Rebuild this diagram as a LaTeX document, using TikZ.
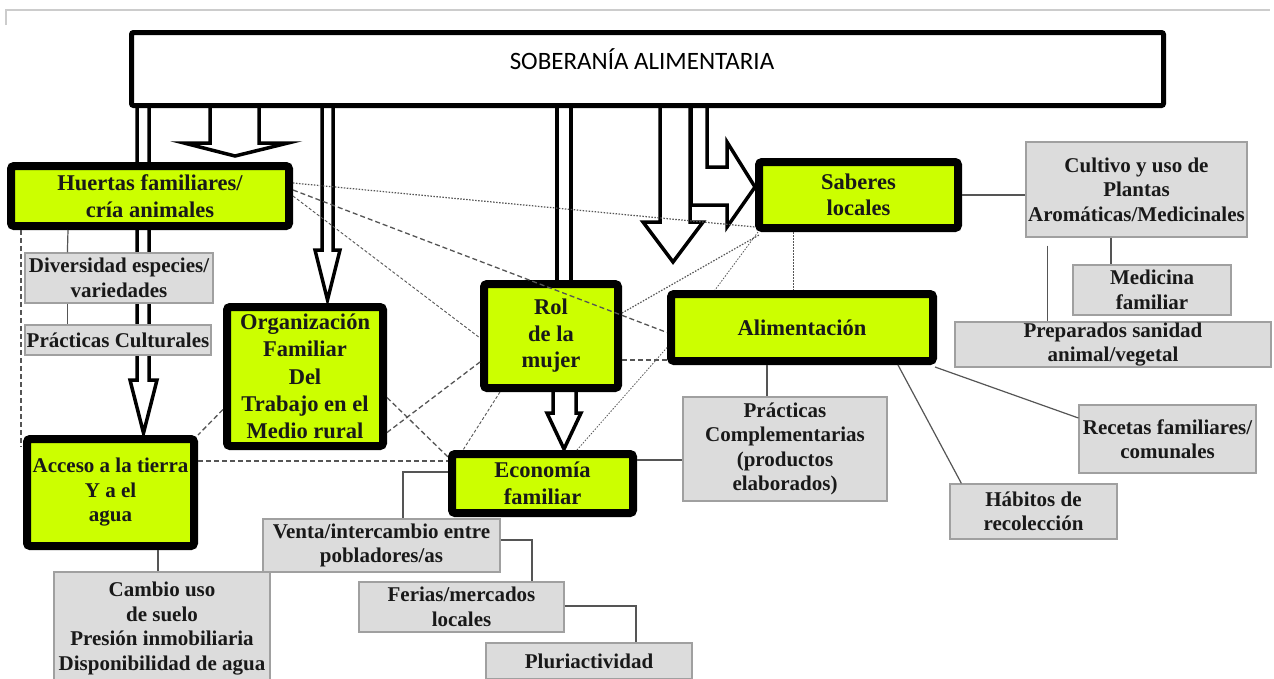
\documentclass[tikz,border=0pt]{standalone}
\usepackage{fontspec}
\setmainfont{Liberation Serif}
\newfontfamily\carl{Carlito}
\definecolor{limeg}{HTML}{CCFF00}
\definecolor{boxg}{HTML}{DCDCDC}
\definecolor{boxe}{HTML}{A0A0A0}
\definecolor{lnk}{HTML}{555555}
\begin{document}
\begin{tikzpicture}[x=1pt,y=-1pt,
  gbox/.style={draw=black, line width=8pt, fill=limeg, rounded corners=3pt, align=center, inner sep=0pt, text=black!90,
    font={\fontsize{22.5}{26.5}\selectfont\bfseries}},
  grbox/.style={draw=boxe, line width=1.2pt, fill=boxg, align=center, inner sep=0pt, text=black!90,
    font={\fontsize{21}{24.5}\selectfont\bfseries}},
  barrow/.style={draw=black, line width=3.5pt, fill=white, line join=miter},
  ddot/.style={draw=lnk, line width=1.2pt, dash pattern=on 1.5pt off 1.5pt},
  ddash/.style={draw=lnk, line width=1.3pt, dash pattern=on 5pt off 3pt},
  dthin/.style={draw=lnk, line width=0.9pt, dash pattern=on 3pt off 2pt},
  sline/.style={draw=lnk, line width=1.2pt}]
\useasboundingbox (0,0) rectangle (1274,678);
\fill[white] (0,0) rectangle (1274,678);
\draw[black!20, line width=2pt] (6,25) -- (6,10) -- (1270,10);

% block arrows
\draw[barrow] (137,106) -- (137,380) -- (130,380) -- (143.5,433) -- (157,380) -- (149,380) -- (149,106) -- cycle;
\draw[barrow] (210,106) -- (210,143) -- (184,143) -- (235,156) -- (288,143) -- (259,143) -- (259,106) -- cycle;
\draw[barrow] (322,106) -- (322,250) -- (315,250) -- (327.5,300) -- (340,250) -- (333,250) -- (333,106) -- cycle;
\draw[barrow] (557,106) -- (557,284) -- (571,284) -- (571,106) -- cycle;
\draw[barrow] (553,390) -- (553,413) -- (547,413) -- (564,449) -- (581,413) -- (576,413) -- (576,390) -- cycle;
\draw[barrow] (660,104) -- (660,222) -- (643,222) -- (673,262) -- (703,222) -- (690,222) -- (690,104) -- cycle;
\draw[barrow] (691,106) -- (691,205) -- (727,205) -- (727,227) -- (755,187) -- (727,142) -- (727,167) -- (707,167) -- (707,106) -- cycle;

% top box
\node[draw=black, line width=5pt, rounded corners=2pt, fill=white, minimum width=1032pt, minimum height=73pt] (sob) at (647.5,69) {};
\node[font={\carl\fontsize{25}{30}\selectfont}] (sobt) at (642,59) {SOBERANÍA ALIMENTARIA};

% green boxes
\node[gbox, minimum width=278pt, minimum height=60pt] (hu) at (150,196) {Huertas familiares/\\cría animales};
\node[gbox, minimum width=156pt, minimum height=139pt, font={\fontsize{22.5}{27.2}\selectfont\bfseries}] (or) at (305,376.5) {Organización\\Familiar\\Del\\Trabajo en el\\Medio rural};
\node[gbox, minimum width=167pt, minimum height=107pt, font={\fontsize{21}{24.5}\selectfont\bfseries}] (ac) at (110.5,492.5) {Acceso a la tierra\\Y a el\\agua};
\node[gbox, minimum width=134pt, minimum height=104pt] (ro) at (551,336) {Rol\\de la\\mujer};
\node[gbox, minimum width=199pt, minimum height=66pt] (sa) at (858.5,195) {Saberes\\locales};
\node[gbox, minimum width=262pt, minimum height=67pt] (al) at (802,327.5) {Alimentación};
\node[gbox, minimum width=181pt, minimum height=59pt] (ec) at (542.5,483.5) {Economía\\familiar};

% grey boxes
\node[grbox, minimum width=188pt, minimum height=50pt] (dv) at (119,278) {Diversidad especies/\\variedades};
\node[grbox, minimum width=186pt, minimum height=30pt] (pc) at (118,340) {Prácticas Culturales};
\node[grbox, minimum width=221pt, minimum height=95pt] (cu) at (1136.5,189.5) {Cultivo y uso de\\Plantas\\Aromáticas/Medicinales};
\node[grbox, minimum width=158pt, minimum height=50pt] (me) at (1152,290) {Medicina\\familiar};
\node[grbox, minimum width=316pt, minimum height=45pt] (pr) at (1113,344.5) {Preparados sanidad\\animal/vegetal};
\node[grbox, minimum width=177pt, minimum height=68pt] (re) at (1167.5,439) {Recetas familiares/\\comunales};
\node[grbox, minimum width=167pt, minimum height=55pt] (ha) at (1033.5,511.5) {Hábitos de\\recolección};
\node[grbox, minimum width=204pt, minimum height=104pt] (pco) at (785,449) {Prácticas\\Complementarias\\(productos\\elaborados)};
\node[grbox, minimum width=237pt, minimum height=53pt] (ve) at (381.5,545.5) {Venta/intercambio entre\\pobladores/as};
\node[grbox, minimum width=205pt, minimum height=50pt] (fe) at (461.5,607) {Ferias/mercados\\locales};
\node[grbox, minimum width=206pt, minimum height=36pt] (pl) at (589,661) {Pluriactividad};
\node[grbox, minimum width=216pt, minimum height=113pt] (ca) at (162,628.5) {Cambio uso\\de suelo\\Presión inmobiliaria\\Disponibilidad de agua};

% dashed / dotted relations
\draw[ddot] ([yshift=13pt]hu.east) -- ([yshift=5pt]sa.south west);
\draw[ddash] ([yshift=6pt]hu.east) -- ([yshift=-5pt]al.west);
\draw[dthin] (hu.east) -- ([yshift=-2pt]ro.west);
\draw[ddash] ([xshift=14pt]hu.south west) -- ([xshift=-2pt,yshift=-12pt]ac.north west);
\draw[ddash] ([yshift=31.5pt]ac.east) -- ([yshift=22.5pt]ec.west);
\draw[ddash] ([yshift=-33pt]or.west) -- (ac.north east);
\draw[ddash] ([yshift=-21pt]or.east) -- ([yshift=-7pt]ec.north west);
\draw[ddash] ([yshift=-56pt]or.east) -- ([yshift=-26pt]ro.west);
\draw[dthin] ([xshift=20pt]ro.south west) -- ([xshift=15pt]ec.north west);
\draw[ddash] ([yshift=-24pt]ro.east) -- ([yshift=-32.5pt]al.west);
\draw[ddot] ([yshift=23pt]ro.east) -- ([xshift=4pt,yshift=-3pt]sa.south west);
\draw[ddot, line width=0.8pt] ([xshift=3pt]sa.south west) -- ([xshift=48pt]al.north west);
\draw[ddot, line width=0.8pt] ([xshift=-60pt]ec.north east) -- ([yshift=-20pt]al.west);
\draw[ddot, line width=0.8pt] ([xshift=-65.5pt]sa.south) -- ([xshift=-9pt]al.north);

% solid connectors
\draw[sline] ([xshift=61pt]hu.south west) -- ([xshift=43pt]dv.north west);
\draw[sline] ([xshift=43pt]dv.south west) -- ([xshift=43pt]pc.north west);
\draw[sline] (sa.east) -- ([yshift=-5.5pt]cu.west);
\draw[sline] ([xshift=-25.5pt]cu.south) -- ([xshift=-41pt]me.north);
\draw[sline] ([xshift=22pt,yshift=-8pt]cu.south west) -- ([xshift=93pt]pr.north west);
\draw[sline] ([xshift=-2pt,yshift=-2pt]al.south east) -- ([yshift=21pt]re.west);
\draw[sline] ([xshift=-39pt]al.south east) -- ([xshift=12pt]ha.north west);
\draw[sline] ([xshift=-35pt]al.south) -- ([xshift=-18pt]pco.north);
\draw[sline] ([yshift=23.5pt]ec.east) -- ([yshift=-11pt]pco.west);
\draw[sline] ([yshift=11.5pt]ec.west) -| ([xshift=21.5pt]ve.north);
\draw[sline] ([yshift=5.5pt]ve.east) -| ([xshift=70.5pt]fe.north);
\draw[sline] ([yshift=1pt]fe.east) -| ([xshift=47pt]pl.north);
\draw[sline] ([xshift=47.5pt]ac.south) -- ([xshift=-4pt]ca.north);
\end{tikzpicture}
\end{document}
